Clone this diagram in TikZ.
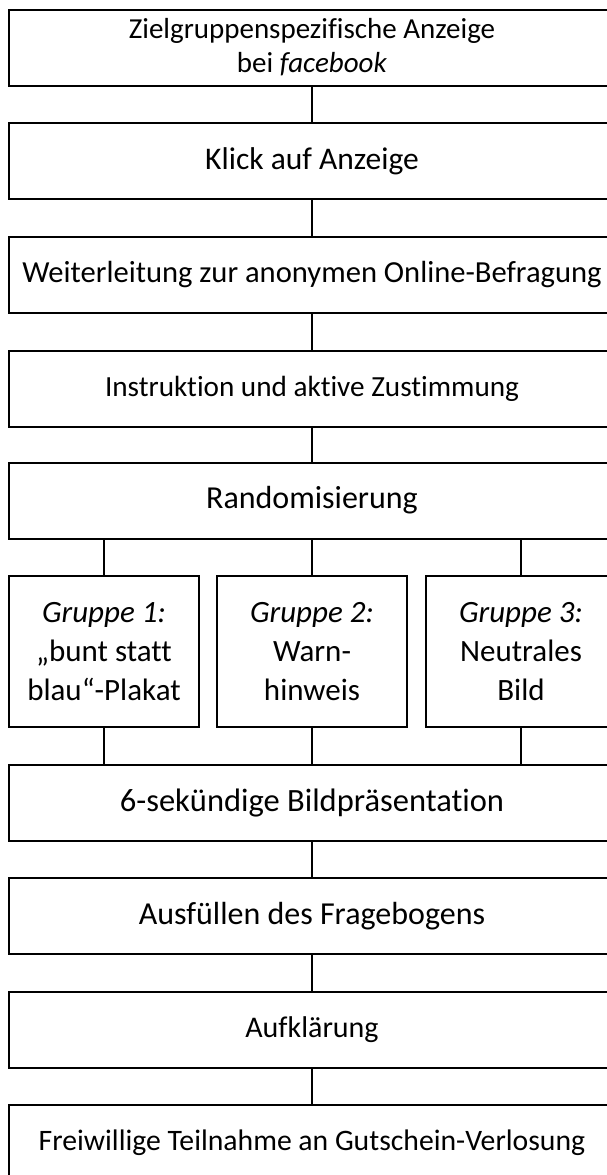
\documentclass[tikz,border=0pt]{standalone}
\usepackage{fontspec}
\setmainfont{Carlito}[Ligatures=NoCommon]
\begin{document}
\begin{tikzpicture}[x=1pt,y=-1pt,
  every node/.style={inner sep=0pt, outer sep=0pt, align=center},
  textsize/.style={font=\fontsize{#1}{38}\selectfont},
  mainbox/.style={draw, line width=2pt, minimum width=606pt, minimum height=76pt},
  groupbox/.style={draw, line width=2pt, minimum width=190pt, minimum height=151pt, font=\fontsize{31}{39}\selectfont},
  link/.style={line width=2pt}]
\useasboundingbox (0,0) rectangle (607,1175);
\clip (0,0) rectangle (607,1175);
\node[mainbox, font=\fontsize{29}{34}\selectfont] (b1) at (312,47.5) {Zielgruppenspezifische Anzeige\\bei \textit{facebook}};
\node[mainbox, textsize=31.5] (b2) at (312,161) {Klick auf Anzeige};
\node[mainbox, textsize=30.6] (b3) at (312,274.5) {Weiterleitung zur anonymen Online-Befragung};
\node[mainbox, textsize=29.2] (b4) at (312,388.5) {Instruktion und aktive Zustimmung};
\node[mainbox, textsize=32] (b5) at (312,500.5) {Randomisierung};
\node[groupbox] (g1) at (104,651.5) {\textit{Gruppe 1:}\\„bunt statt\\blau“-Plakat};
\node[groupbox] (g2) at (312,651.5) {\textit{Gruppe 2:}\\Warn-\\hinweis};
\node[groupbox] (g3) at (521,651.5) {\textit{Gruppe 3:}\\Neutrales\\Bild};
\node[mainbox, textsize=32.5] (b6) at (312,803) {6-sekündige Bildpräsentation};
\node[mainbox, textsize=32] (b7) at (312,916) {Ausfüllen des Fragebogens};
\node[mainbox, textsize=30] (b8) at (312,1029.5) {Aufklärung};
\node[mainbox, textsize=29.7] (b9) at (312,1143) {Freiwillige Teilnahme an Gutschein-Verlosung};
\draw[link] (b1.south) -- (b2.north);
\draw[link] (b2.south) -- (b3.north);
\draw[link] (b3.south) -- (b4.north);
\draw[link] (b4.south) -- (b5.north);
\draw[link] (g1.north |- b5.south) -- (g1.north);
\draw[link] (g2.north |- b5.south) -- (g2.north);
\draw[link] (g3.north |- b5.south) -- (g3.north);
\draw[link] (g1.south) -- (g1.south |- b6.north);
\draw[link] (g2.south) -- (g2.south |- b6.north);
\draw[link] (g3.south) -- (g3.south |- b6.north);
\draw[link] (b6.south) -- (b7.north);
\draw[link] (b7.south) -- (b8.north);
\draw[link] (b8.south) -- (b9.north);
\end{tikzpicture}
\end{document}
